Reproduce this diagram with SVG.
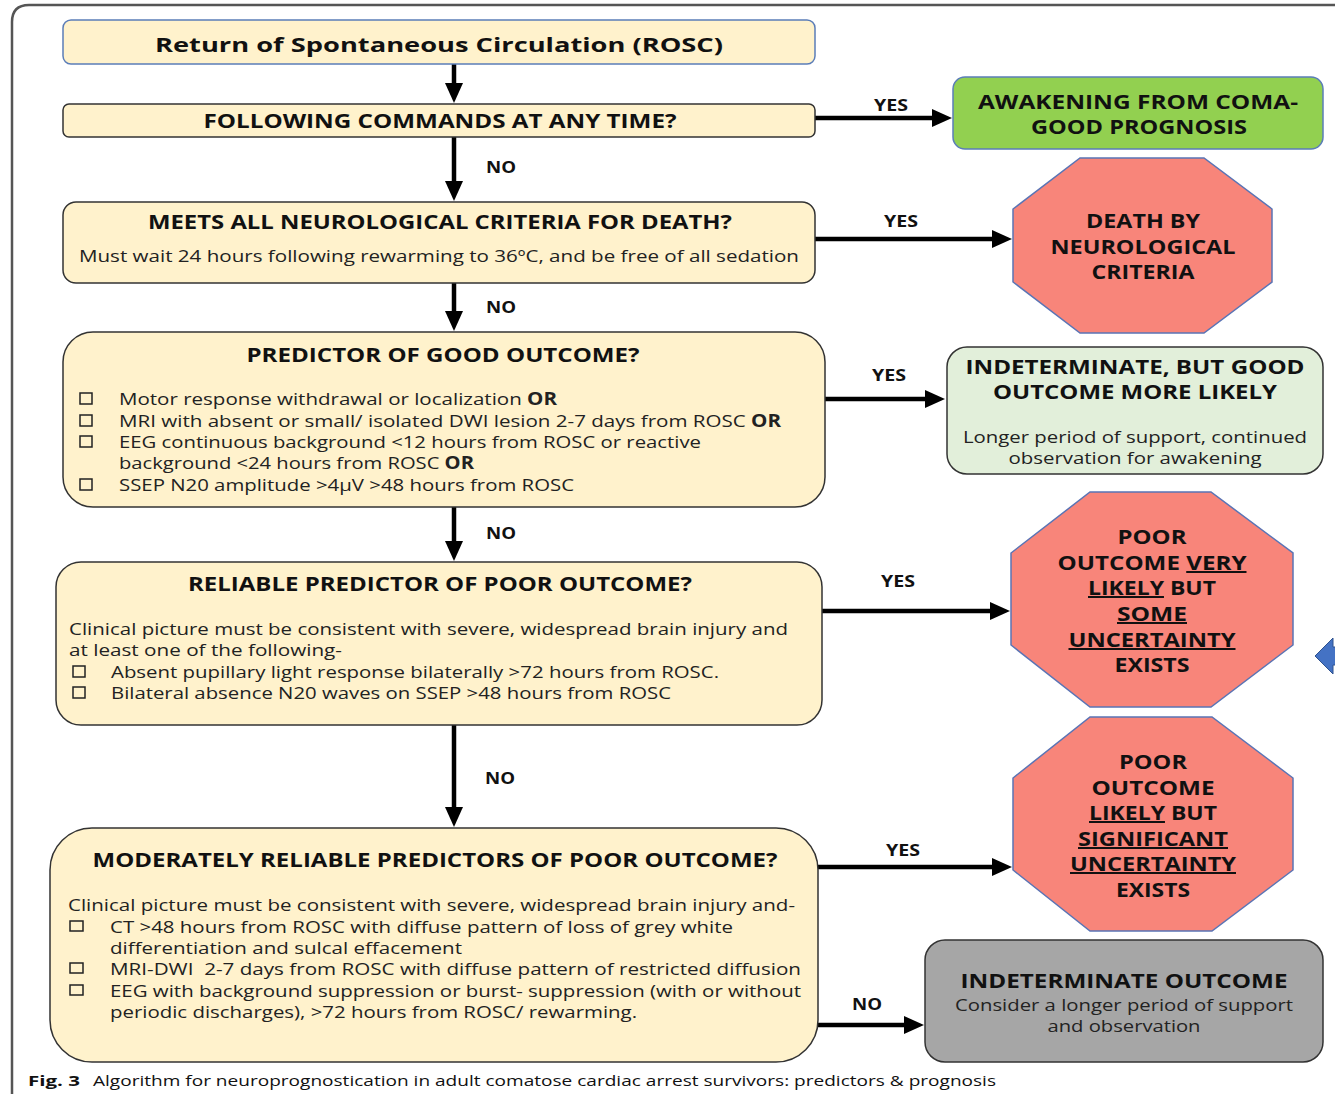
<svg xmlns="http://www.w3.org/2000/svg" width="1335" height="1094" viewBox="0 0 1335 1094">
<style>
text{font-family:"Open Sans","Noto Sans","Liberation Sans",sans-serif;fill:#111;}
.t{font-weight:700;font-size:20px;}
.b{font-size:17px;fill:#222;}
.lbl{font-weight:700;font-size:16px;text-anchor:middle;}
.c{text-anchor:middle;}
.y{fill:#FFF2CC;stroke:#333;stroke-width:1.5;}
.oct{fill:#F8857A;stroke:#5A74B5;stroke-width:1.5;}
.cb{fill:none;stroke:#222;stroke-width:1.5;}
.u{text-decoration:underline;}
.conn line{stroke:#000;stroke-width:4.5;}
</style>
<defs>
<marker id="ah" markerUnits="userSpaceOnUse" markerWidth="22" markerHeight="20" refX="4" refY="9" orient="auto">
<path d="M0,0 L20,9 L0,18 z" fill="#000"/>
</marker>
</defs>
<path d="M12,1094 V22 Q12,5 29,5 H1335" fill="none" stroke="#555" stroke-width="2.5"/>

<g id="connectors" class="conn">
<line x1="454" y1="64" x2="454" y2="87" marker-end="url(#ah)"/>
<line x1="815" y1="118" x2="936" y2="118" marker-end="url(#ah)"/>
<line x1="454" y1="137" x2="454" y2="185" marker-end="url(#ah)"/>
<line x1="815" y1="239" x2="996" y2="239" marker-end="url(#ah)"/>
<line x1="454" y1="283" x2="454" y2="315" marker-end="url(#ah)"/>
<line x1="825" y1="399" x2="929" y2="399" marker-end="url(#ah)"/>
<line x1="454" y1="507" x2="454" y2="545" marker-end="url(#ah)"/>
<line x1="822" y1="611" x2="994" y2="611" marker-end="url(#ah)"/>
<line x1="454" y1="725" x2="454" y2="811" marker-end="url(#ah)"/>
<line x1="818" y1="867" x2="996" y2="867" marker-end="url(#ah)"/>
<line x1="818" y1="1025" x2="908" y2="1025" marker-end="url(#ah)"/>
<text class="lbl" x="891" y="111" textLength="34" lengthAdjust="spacingAndGlyphs">YES</text>
<text class="lbl" x="501" y="173" textLength="30" lengthAdjust="spacingAndGlyphs">NO</text>
<text class="lbl" x="901" y="227" textLength="34" lengthAdjust="spacingAndGlyphs">YES</text>
<text class="lbl" x="501" y="313" textLength="30" lengthAdjust="spacingAndGlyphs">NO</text>
<text class="lbl" x="889" y="381" textLength="34" lengthAdjust="spacingAndGlyphs">YES</text>
<text class="lbl" x="501" y="539" textLength="30" lengthAdjust="spacingAndGlyphs">NO</text>
<text class="lbl" x="898" y="587" textLength="34" lengthAdjust="spacingAndGlyphs">YES</text>
<text class="lbl" x="500" y="784" textLength="30" lengthAdjust="spacingAndGlyphs">NO</text>
<text class="lbl" x="903" y="856" textLength="34" lengthAdjust="spacingAndGlyphs">YES</text>
<text class="lbl" x="867" y="1010" textLength="30" lengthAdjust="spacingAndGlyphs">NO</text>
</g>

<g id="rosc">
<rect x="63" y="20" width="752" height="44" rx="8" fill="#FFF2CC" stroke="#5B7DB8" stroke-width="1.5"/>
<text class="t c" x="439" y="52" font-size="22" textLength="568" lengthAdjust="spacingAndGlyphs">Return of Spontaneous Circulation (ROSC)</text>
</g>

<g id="following">
<rect class="y" x="63" y="104" width="752" height="33" rx="6"/>
<text class="t c" x="440" y="128" textLength="473" lengthAdjust="spacingAndGlyphs">FOLLOWING COMMANDS AT ANY TIME?</text>
</g>

<g id="awakening">
<rect x="953" y="77" width="370" height="72" rx="12" fill="#92D050" stroke="#5B7DB8" stroke-width="1.5"/>
<text class="t c" x="1138" y="109" textLength="320" lengthAdjust="spacingAndGlyphs">AWAKENING FROM COMA-</text>
<text class="t c" x="1139" y="134" textLength="216" lengthAdjust="spacingAndGlyphs">GOOD PROGNOSIS</text>
</g>

<g id="neuro-death">
<rect class="y" x="63" y="202" width="752" height="81" rx="13"/>
<text class="t c" x="440" y="229" textLength="584" lengthAdjust="spacingAndGlyphs">MEETS ALL NEUROLOGICAL CRITERIA FOR DEATH?</text>
<text class="b" x="79" y="262" textLength="720" lengthAdjust="spacingAndGlyphs">Must wait 24 hours following rewarming to 36ºC, and be free of all sedation</text>
</g>

<g id="death">
<polygon class="oct" points="1080,158 1204,158 1272,209 1272,282 1204,333 1080,333 1013,282 1013,209"/>
<text class="t c" x="1143" y="228" textLength="114" lengthAdjust="spacingAndGlyphs">DEATH BY</text>
<text class="t c" x="1143" y="254" textLength="185" lengthAdjust="spacingAndGlyphs">NEUROLOGICAL</text>
<text class="t c" x="1143" y="279" textLength="103" lengthAdjust="spacingAndGlyphs">CRITERIA</text>
</g>

<g id="good-predictor">
<rect class="y" x="63" y="332" width="762" height="175" rx="30"/>
<text class="t c" x="443" y="362" textLength="393" lengthAdjust="spacingAndGlyphs">PREDICTOR OF GOOD OUTCOME?</text>
<rect class="cb" x="80" y="393" width="12" height="11"/>
<rect class="cb" x="80" y="415" width="12" height="11"/>
<rect class="cb" x="80" y="436" width="12" height="11"/>
<rect class="cb" x="80" y="479" width="12" height="11"/>
<text class="b" x="119" y="405" textLength="438" lengthAdjust="spacingAndGlyphs">Motor response withdrawal or localization <tspan font-weight="700">OR</tspan></text>
<text class="b" x="119" y="427" textLength="662" lengthAdjust="spacingAndGlyphs">MRI with absent or small/ isolated DWI lesion 2-7 days from ROSC <tspan font-weight="700">OR</tspan></text>
<text class="b" x="119" y="448" textLength="582" lengthAdjust="spacingAndGlyphs">EEG continuous background &lt;12 hours from ROSC or reactive</text>
<text class="b" x="119" y="469" textLength="355" lengthAdjust="spacingAndGlyphs">background &lt;24 hours from ROSC <tspan font-weight="700">OR</tspan></text>
<text class="b" x="119" y="491" textLength="455" lengthAdjust="spacingAndGlyphs">SSEP N20 amplitude &gt;4µV &gt;48 hours from ROSC</text>
</g>

<g id="indeterminate-good">
<rect x="947" y="347" width="376" height="127" rx="20" fill="#E2EFDA" stroke="#333" stroke-width="1.5"/>
<text class="t c" x="1135" y="374" textLength="339" lengthAdjust="spacingAndGlyphs">INDETERMINATE, BUT GOOD</text>
<text class="t c" x="1135" y="399" textLength="284" lengthAdjust="spacingAndGlyphs">OUTCOME MORE LIKELY</text>
<text class="b c" x="1135" y="443" textLength="344" lengthAdjust="spacingAndGlyphs">Longer period of support, continued</text>
<text class="b c" x="1135" y="464" textLength="253" lengthAdjust="spacingAndGlyphs">observation for awakening</text>
</g>

<g id="reliable-poor">
<rect class="y" x="56" y="562" width="766" height="163" rx="25"/>
<text class="t c" x="440" y="591" textLength="504" lengthAdjust="spacingAndGlyphs">RELIABLE PREDICTOR OF POOR OUTCOME?</text>
<text class="b" x="69" y="635" textLength="719" lengthAdjust="spacingAndGlyphs">Clinical picture must be consistent with severe, widespread brain injury and</text>
<text class="b" x="69" y="656" textLength="273" lengthAdjust="spacingAndGlyphs">at least one of the following-</text>
<rect class="cb" x="73" y="666" width="12" height="11"/>
<rect class="cb" x="73" y="687" width="12" height="11"/>
<text class="b" x="111" y="678" textLength="608" lengthAdjust="spacingAndGlyphs">Absent pupillary light response bilaterally &gt;72 hours from ROSC.</text>
<text class="b" x="111" y="699" textLength="560" lengthAdjust="spacingAndGlyphs">Bilateral absence N20 waves on SSEP &gt;48 hours from ROSC</text>
</g>

<g id="poor-very-likely">
<polygon class="oct" points="1090,492 1211,492 1293,553 1293,645 1211,707 1090,707 1011,645 1011,553"/>
<text class="t c" x="1152" y="544" textLength="69" lengthAdjust="spacingAndGlyphs">POOR</text>
<text class="t c" x="1152" y="570" textLength="189" lengthAdjust="spacingAndGlyphs">OUTCOME <tspan class="u">VERY</tspan></text>
<text class="t c" x="1152" y="595" textLength="128" lengthAdjust="spacingAndGlyphs"><tspan class="u">LIKELY</tspan> BUT</text>
<text class="t c u" x="1152" y="621" textLength="70" lengthAdjust="spacingAndGlyphs">SOME</text>
<text class="t c u" x="1152" y="647" textLength="167" lengthAdjust="spacingAndGlyphs">UNCERTAINTY</text>
<text class="t c" x="1152" y="672" textLength="75" lengthAdjust="spacingAndGlyphs">EXISTS</text>
</g>

<g id="moderate-poor">
<rect class="y" x="50" y="828" width="768" height="234" rx="42"/>
<text class="t c" x="435" y="867" textLength="685" lengthAdjust="spacingAndGlyphs">MODERATELY RELIABLE PREDICTORS OF POOR OUTCOME?</text>
<text class="b" x="68" y="911" textLength="727" lengthAdjust="spacingAndGlyphs">Clinical picture must be consistent with severe, widespread brain injury and-</text>
<rect class="cb" x="70" y="921" width="13" height="10"/>
<rect class="cb" x="70" y="963" width="13" height="10"/>
<rect class="cb" x="70" y="985" width="13" height="10"/>
<text class="b" x="110" y="933" textLength="623" lengthAdjust="spacingAndGlyphs">CT &gt;48 hours from ROSC with diffuse pattern of loss of grey white</text>
<text class="b" x="110" y="954" textLength="352" lengthAdjust="spacingAndGlyphs">differentiation and sulcal effacement</text>
<text class="b" x="110" y="975" textLength="691" lengthAdjust="spacingAndGlyphs" xml:space="preserve">MRI-DWI  2-7 days from ROSC with diffuse pattern of restricted diffusion</text>
<text class="b" x="110" y="997" textLength="691" lengthAdjust="spacingAndGlyphs">EEG with background suppression or burst- suppression (with or without</text>
<text class="b" x="110" y="1018" textLength="527" lengthAdjust="spacingAndGlyphs">periodic discharges), &gt;72 hours from ROSC/ rewarming.</text>
</g>

<g id="poor-likely">
<polygon class="oct" points="1090,717 1212,717 1293,778 1293,870 1212,931 1090,931 1013,870 1013,778"/>
<text class="t c" x="1153" y="769" textLength="68" lengthAdjust="spacingAndGlyphs">POOR</text>
<text class="t c" x="1153" y="795" textLength="123" lengthAdjust="spacingAndGlyphs">OUTCOME</text>
<text class="t c" x="1153" y="820" textLength="128" lengthAdjust="spacingAndGlyphs"><tspan class="u">LIKELY</tspan> BUT</text>
<text class="t c u" x="1153" y="846" textLength="150" lengthAdjust="spacingAndGlyphs">SIGNIFICANT</text>
<text class="t c u" x="1153" y="871" textLength="166" lengthAdjust="spacingAndGlyphs">UNCERTAINTY</text>
<text class="t c" x="1153" y="897" textLength="74" lengthAdjust="spacingAndGlyphs">EXISTS</text>
</g>

<g id="indeterminate">
<rect x="925" y="940" width="398" height="122" rx="20" fill="#A6A6A6" stroke="#333" stroke-width="1.5"/>
<text class="t c" x="1124" y="988" textLength="327" lengthAdjust="spacingAndGlyphs">INDETERMINATE OUTCOME</text>
<text class="b c" x="1124" y="1011" textLength="338" lengthAdjust="spacingAndGlyphs">Consider a longer period of support</text>
<text class="b c" x="1124" y="1032" textLength="153" lengthAdjust="spacingAndGlyphs">and observation</text>
</g>

<polygon points="1315,656 1333,638 1333,647 1340,647 1340,665 1333,665 1333,674" fill="#4472C4" stroke="#2F528F" stroke-width="1"/>

<text x="28" y="1086" font-size="15" font-weight="700" textLength="52" lengthAdjust="spacingAndGlyphs">Fig. 3</text>
<text x="93" y="1086" font-size="15" fill="#222" textLength="903" lengthAdjust="spacingAndGlyphs">Algorithm for neuroprognostication in adult comatose cardiac arrest survivors: predictors &amp; prognosis</text>
</svg>
